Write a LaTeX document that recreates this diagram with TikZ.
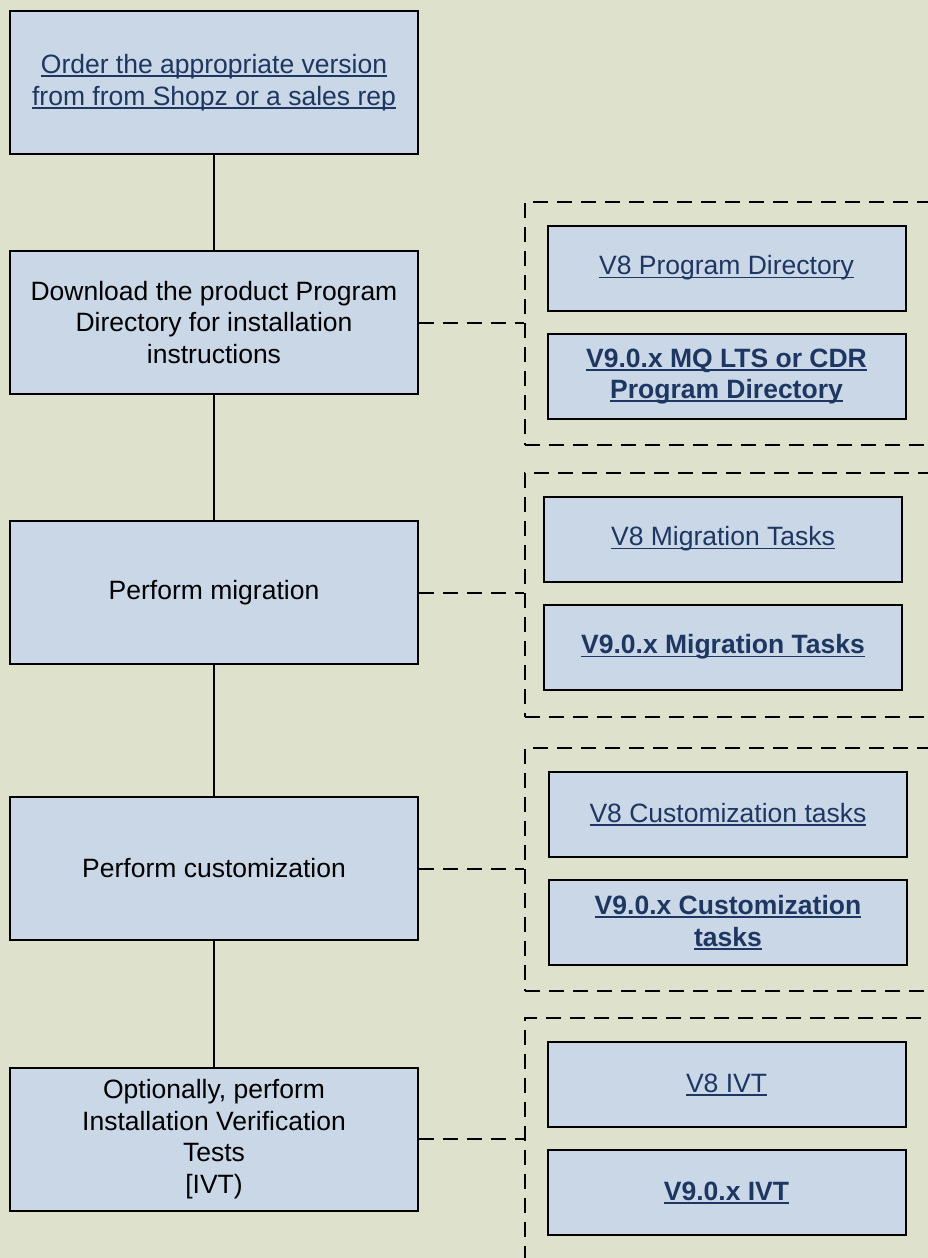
\documentclass[tikz,border=0pt]{standalone}
\usepackage{fontspec}
\setmainfont{Liberation Sans}
\usetikzlibrary{positioning}

\definecolor{bgkhaki}{RGB}{222,226,204}
\definecolor{boxblue}{RGB}{201,215,230}
\definecolor{linkblue}{RGB}{30,55,98}

\newsavebox\linkbox
\newcommand\linktext[1]{\sbox\linkbox{#1}\rlap{\rule[-3.5pt]{\wd\linkbox}{1.8pt}}\usebox\linkbox}

\begin{document}
\begin{tikzpicture}[x=1pt,y=-1pt,
	stepbox/.style={draw=black,line width=2pt,fill=boxblue,align=center,
		font=\fontsize{26.5}{31.5}\selectfont,inner sep=0pt,
		minimum width=408pt,minimum height=143pt},
	docbox/.style={stepbox,text=linkblue,minimum width=358pt,minimum height=85pt},
	groupbox/.style={draw=black,line width=2pt,dash pattern=on 15pt off 9pt,
		anchor=north west,inner sep=0pt,minimum width=430pt},
	tie/.style={line width=2pt,dash pattern=on 15pt off 9pt}]

\useasboundingbox (0,0) rectangle (928,1258);
\fill[bgkhaki] (0,0) rectangle (928,1258);
\clip (0,0) rectangle (928,1258);

\node(order)	[stepbox,text=linkblue]	at (214,82.5)	{\linktext{Order the appropriate version}\\\linktext{from from Shopz or a sales rep}};
\node(download)	[stepbox]	at (214,322.5)	{Download the product Program\\Directory for installation\\instructions};
\node(migrate)	[stepbox]	at (214,592.5)	{Perform migration};
\node(custom)	[stepbox]	at (214,868.5)	{Perform customization};
\node(ivt)	[stepbox]	at (214,1139)	{Optionally, perform\\Installation Verification\\Tests\\{[}IVT)};

\node(g_pd)	[groupbox,minimum height=243pt]	at (524,201)	{};
\node(g_mig)	[groupbox,minimum height=244pt]	at (524,472)	{};
\node(g_cus)	[groupbox,minimum height=243pt]	at (524,747)	{};
\node(g_ivt)	[groupbox,minimum height=280pt]	at (524,1017)	{};

\node(pd_v8)	[docbox]	at (726.5,268)	{\linktext{V8 Program Directory}};
\node(pd_v9)	[docbox,font=\fontsize{26.5}{31.5}\selectfont\bfseries]	at (726.5,376.5)	{\linktext{V9.0.x MQ LTS or CDR}\\\linktext{Program Directory}};
\node(mig_v8)	[docbox]	at (723,539)	{\linktext{V8 Migration Tasks}};
\node(mig_v9)	[docbox,font=\fontsize{26.5}{31.5}\selectfont\bfseries]	at (723,647)	{\linktext{V9.0.x Migration Tasks}};
\node(cus_v8)	[docbox]	at (728,814.5)	{\linktext{V8 Customization tasks}};
\node(cus_v9)	[docbox,font=\fontsize{26.5}{31.5}\selectfont\bfseries]	at (728,922.5)	{\linktext{V9.0.x Customization}\\\linktext{tasks}};
\node(ivt_v8)	[docbox]	at (726.5,1084.5)	{\linktext{V8 IVT}};
\node(ivt_v9)	[docbox,font=\fontsize{26.5}{31.5}\selectfont\bfseries]	at (726.5,1192.5)	{\linktext{V9.0.x IVT}};

\draw [line width=2pt] (order) -- (download);
\draw [line width=2pt] (download) -- (migrate);
\draw [line width=2pt] (migrate) -- (custom);
\draw [line width=2pt] (custom) -- (ivt);

\draw [tie] (download.east) -- (download.east -| g_pd.west);
\draw [tie] (migrate.east) -- (migrate.east -| g_mig.west);
\draw [tie] (custom.east) -- (custom.east -| g_cus.west);
\draw [tie] (ivt.east) -- (ivt.east -| g_ivt.west);

\end{tikzpicture}
\end{document}
